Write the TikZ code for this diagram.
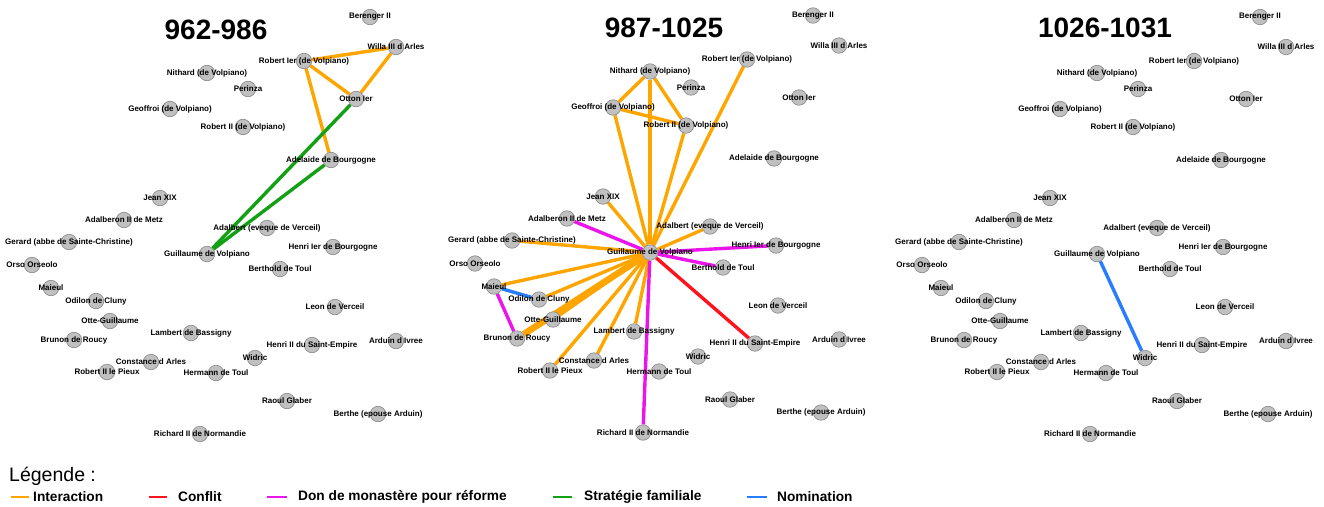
\documentclass[tikz,border=0pt]{standalone}
\usepackage{fontspec}
\setmainfont{Liberation Sans}
\usetikzlibrary{backgrounds}
\definecolor{cInter}{RGB}{255,165,0}
\definecolor{cConf}{RGB}{255,20,30}
\definecolor{cDon}{RGB}{235,20,235}
\definecolor{cStrat}{RGB}{20,160,20}
\definecolor{cNom}{RGB}{40,125,255}
\definecolor{nfill}{RGB}{192,192,192}
\definecolor{ndraw}{RGB}{135,135,135}
\tikzset{
  dot/.style={circle, fill=nfill, draw=ndraw, line width=0.6pt, minimum size=15.5pt, inner sep=0pt},
  lab/.style={font=\bfseries\fontsize{8}{9}\selectfont, text=black, inner sep=0pt},
  ttl/.style={font=\bfseries\fontsize{28}{30}\selectfont, inner sep=0pt},
  legt/.style={font=\bfseries\fontsize{13.7}{15}\selectfont, anchor=west, inner sep=0pt},
  einter/.style={draw=cInter, line width=3.4pt},
  ethick/.style={draw=cInter, line width=6.5pt},
  econf/.style={draw=cConf, line width=3.4pt},
  edon/.style={draw=cDon, line width=3.4pt},
  estrat/.style={draw=cStrat, line width=3.4pt},
  enom/.style={draw=cNom, line width=3.4pt},
  lline/.style={line width=2.5pt},
}
\newcommand\pnode[4]{%
  \node[dot] (#1) at (#2,#3) {};
  \node[lab] (#1-l) at (#2,#3) {#4};}
\newcommand\drawpanel[1]{%
  \pnode{#1ber}{370}{17}{Berenger II}
  \pnode{#1wil}{396}{47}{Willa III d Arles}
  \pnode{#1rob1}{304}{61}{Robert Ier (de Volpiano)}
  \pnode{#1nit}{207}{73}{Nithard (de Volpiano)}
  \pnode{#1per}{248}{89}{Perinza}
  \pnode{#1ott}{356}{99}{Otton Ier}
  \pnode{#1geo}{170}{109}{Geoffroi (de Volpiano)}
  \pnode{#1rob2}{243}{127}{Robert II (de Volpiano)}
  \pnode{#1ade}{331}{160}{Adelaide de Bourgogne}
  \pnode{#1jea}{160}{198}{Jean XIX}
  \pnode{#1adb}{124}{220}{Adalberon II de Metz}
  \pnode{#1adt}{267}{228}{Adalbert (eveque de Verceil)}
  \pnode{#1ger}{69}{242}{Gerard (abbe de Sainte-Christine)}
  \pnode{#1hen1}{333}{247}{Henri Ier de Bourgogne}
  \pnode{#1gui}{207}{254}{Guillaume de Volpiano}
  \pnode{#1ors}{32}{265}{Orso Orseolo}
  \pnode{#1bet}{280}{269}{Berthold de Toul}
  \pnode{#1mai}{51}{288}{Maieul}
  \pnode{#1odi}{96}{301}{Odilon de Cluny}
  \pnode{#1leo}{335}{307}{Leon de Verceil}
  \pnode{#1otg}{110}{321}{Otte-Guillaume}
  \pnode{#1lam}{191}{333}{Lambert de Bassigny}
  \pnode{#1bru}{74}{340}{Brunon de Roucy}
  \pnode{#1hen2}{312}{345}{Henri II du Saint-Empire}
  \pnode{#1ard}{396}{341}{Arduin d Ivree}
  \pnode{#1con}{151}{362}{Constance d Arles}
  \pnode{#1wid}{255}{358}{Widric}
  \pnode{#1rpi}{107}{372}{Robert II le Pieux}
  \pnode{#1her}{216}{373}{Hermann de Toul}
  \pnode{#1rao}{287}{401}{Raoul Glaber}
  \pnode{#1bth}{378}{414}{Berthe (epouse Arduin)}
  \pnode{#1ric}{200}{434}{Richard II de Normandie}
}
\begin{document}
\begin{tikzpicture}[x=1pt,y=-1pt]
\useasboundingbox (0,0) rectangle (1324,506);
% titles
\node[ttl] (t1) at (216,30) {962-986};
\node[ttl] (t2) at (664,28) {987-1025};
\node[ttl] (t3) at (1105,28) {1026-1031};
% panels
\drawpanel{a}
\begin{scope}[xshift=443pt,yshift=1.5pt]
\drawpanel{b}
\end{scope}
\begin{scope}[xshift=890pt]
\drawpanel{c}
\end{scope}
% edges
\begin{pgfonlayer}{background}
% panel 1
\foreach \u/\v in {rob1/wil, rob1/ott, wil/ott, rob1/ade}
  \draw[einter] (a\u) -- (a\v);
\foreach \u/\v in {ott/gui, ade/gui}
  \draw[estrat] (a\u) -- (a\v);
% panel 2
\foreach \u/\v in {nit/geo, nit/rob2, nit/gui, geo/rob2, geo/gui, rob2/gui, rob1/gui, jea/gui, adt/gui, ger/gui, mai/gui, odi/gui, otg/gui, rpi/gui, con/gui, lam/gui}
  \draw[einter] (b\u) -- (b\v);
\draw[ethick] (bgui) -- (bbru);
\foreach \u/\v in {adb/gui, hen1/gui, bet/gui, ric/gui, mai/bru}
  \draw[edon] (b\u) -- (b\v);
\draw[econf] (bgui) -- (bhen2);
\draw[enom] (bmai) -- (bodi);
% panel 3
\draw[enom] (cgui) -- (cwid);
\end{pgfonlayer}
% legend
\node[font=\fontsize{19.5}{21}\selectfont, anchor=west, inner sep=0pt] (leg) at (9,476) {Légende :};
\coordinate (l1a) at (11,497); \coordinate (l1b) at (29,497);
\draw[lline, cInter] (l1a) -- (l1b);
\node[legt] (l1t) at (33,497) {Interaction};
\coordinate (l2a) at (149,497); \coordinate (l2b) at (167,497);
\draw[lline, cConf] (l2a) -- (l2b);
\node[legt] (l2t) at (178,497) {Conflit};
\coordinate (l3a) at (267,497); \coordinate (l3b) at (287,497);
\draw[lline, cDon] (l3a) -- (l3b);
\node[legt] (l3t) at (298,497) {Don de monastère pour réforme};
\coordinate (l4a) at (553,497); \coordinate (l4b) at (572,497);
\draw[lline, cStrat] (l4a) -- (l4b);
\node[legt] (l4t) at (584,497) {Stratégie familiale};
\coordinate (l5a) at (747,497); \coordinate (l5b) at (767,497);
\draw[lline, cNom] (l5a) -- (l5b);
\node[legt] (l5t) at (777,497) {Nomination};
\end{tikzpicture}
\end{document}
